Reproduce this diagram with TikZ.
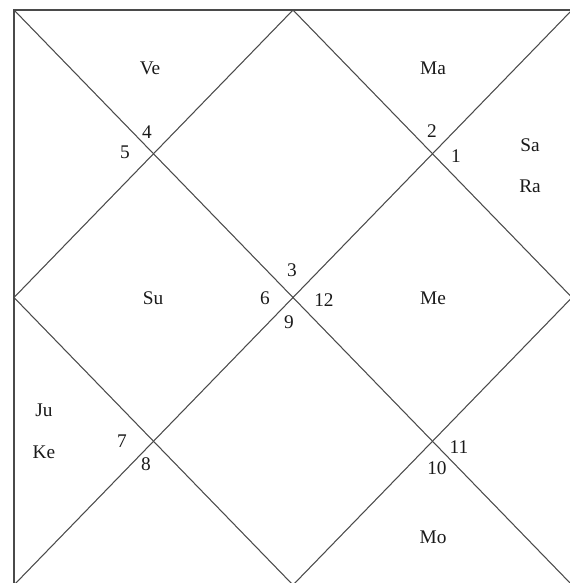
\documentclass[tikz,border=0pt]{standalone}
\usepackage{fontspec}
\setmainfont{Liberation Serif}
\usetikzlibrary{positioning, calc}
\definecolor{mLine}{HTML}{4A4A4A}
\definecolor{mText}{HTML}{1A1A1A}

\begin{document}
\begin{tikzpicture}[x=0.02cm, y=-0.02cm,
    grid/.style={mLine, line width=0.6pt},
    planet/.style={text=mText, font=\fontsize{11}{13}\selectfont, inner sep=0pt},
    house/.style={text=mText, font=\fontsize{11}{13}\selectfont, inner sep=0pt}]
    \useasboundingbox (0,0) rectangle (570,583);
    % corners and edge midpoints
    \coordinate (tl) at (14,10);
    \coordinate (tr) at (572,10);
    \coordinate (br) at (572,585);
    \coordinate (bl) at (14,585);
    \coordinate (tm) at ($(tl)!0.5!(tr)$);
    \coordinate (rm) at ($(tr)!0.5!(br)$);
    \coordinate (bm) at ($(bl)!0.5!(br)$);
    \coordinate (lm) at ($(tl)!0.5!(bl)$);
    \draw[grid] (tl) rectangle (br);
    \draw[grid] (tl) -- (br) (tr) -- (bl);
    \draw[grid] (tm) -- (rm) -- (bm) -- (lm) -- cycle;
    % house numbers
    \foreach \n/\x/\y in {4/147/132, 5/125/152, 2/432/131, 1/456/156,
                          3/292/270, 6/265/298, 12/324/300, 9/289/322,
                          7/122/441, 8/146/464, 11/459/447, 10/437/468}
      \node[house] (h\n) at (\x,\y) {\n};
    % planets
    \foreach \p/\x/\y in {Ve/150/68, Ma/433/68, Sa/530/145, Ra/530/186,
                          Su/153/298, Me/433/298, Ju/44/410, Ke/44/452,
                          Mo/433/537}
      \node[planet] (p\p) at (\x,\y) {\p};
  \end{tikzpicture}
\end{document}
